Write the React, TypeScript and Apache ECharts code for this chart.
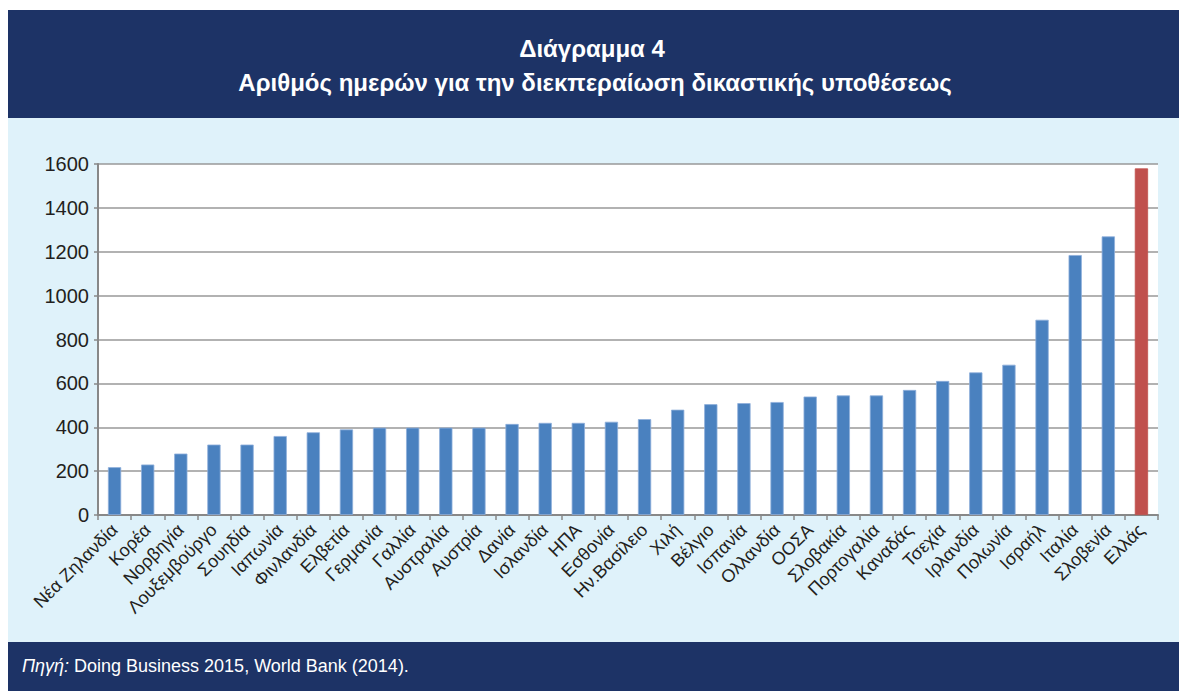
import React, { useEffect, useRef } from "react";
import * as echarts from "echarts";

const categories = [
  "Νέα Ζηλανδία", "Κορέα", "Νορβηγία", "Λουξεμβούργο", "Σουηδία", "Ιαπωνία",
  "Φινλανδία", "Ελβετία", "Γερμανία", "Γαλλία", "Αυστραλία", "Αυστρία",
  "Δανία", "Ισλανδία", "ΗΠΑ", "Εσθονία", "Ην.Βασίλειο", "Χιλή", "Βέλγιο",
  "Ισπανία", "Ολλανδία", "ΟΟΣΑ", "Σλοβακία", "Πορτογαλία", "Καναδάς",
  "Τσεχία", "Ιρλανδία", "Πολωνία", "Ισραήλ", "Ιταλία", "Σλοβενία", "Ελλάς",
];
const days = [
  218, 230, 280, 321, 321, 360, 377, 390, 398, 398, 398, 398,
  415, 420, 420, 425, 437, 480, 505, 510, 515, 540, 545, 545, 570,
  611, 650, 685, 890, 1185, 1270, 1580,
];
const highlighted = "Ελλάς";
const yTicks = [0, 200, 400, 600, 800, 1000, 1200, 1400, 1600];
const title1 = "Διάγραμμα 4";
const title2 = "Αριθμός ημερών για την διεκπεραίωση δικαστικής υποθέσεως";
const sourceLabel = "Πηγή:";
const sourceText = " Doing Business 2015, World Bank (2014).";

const NAVY = "#1d3366";
const LIGHT = "#dff2fa";
const BLUE = "#4a81bf";
const RED = "#c0504d";
const FONT = "'Liberation Sans', Arial, sans-serif";

export default function App() {
  const ref = useRef<HTMLDivElement>(null);
  useEffect(() => {
    if (!ref.current) return;
    const chart = echarts.init(ref.current, null, { renderer: "svg" });
    chart.setOption({
      animation: false,
      backgroundColor: "#ffffff",
      textStyle: { fontFamily: FONT },
      graphic: [
        { type: "rect", z: -100, shape: { x: 8, y: 118, width: 1171, height: 524 }, style: { fill: LIGHT } },
        { type: "rect", z: -90, shape: { x: 8, y: 10, width: 1171, height: 108 }, style: { fill: NAVY } },
        { type: "rect", z: -90, shape: { x: 8, y: 642, width: 1171, height: 49 }, style: { fill: NAVY } },
        {
          type: "text", x: 592, y: 48, z: 10,
          style: { text: title1, fill: "#ffffff", font: "bold 24px " + FONT, align: "center", verticalAlign: "middle" },
        },
        {
          type: "text", x: 595, y: 82, z: 10,
          style: { text: title2, fill: "#ffffff", font: "bold 24px " + FONT, align: "center", verticalAlign: "middle" },
        },
        {
          type: "text", x: 22, y: 666, z: 10,
          style: {
            text: "{i|" + sourceLabel + "}{n|" + sourceText + "}",
            verticalAlign: "middle",
            rich: {
              i: { fill: "#ffffff", fontSize: 18, fontStyle: "italic", fontFamily: FONT },
              n: { fill: "#ffffff", fontSize: 18, fontFamily: FONT },
            },
          },
        },
      ],
      grid: {
        left: 98, right: 21, top: 164, bottom: 176,
        show: true, backgroundColor: "#ffffff", borderWidth: 0,
      },
      xAxis: {
        type: "category",
        data: categories,
        axisLine: { lineStyle: { color: "#888888", width: 2 } },
        axisTick: { show: true, alignWithLabel: false, length: 5, lineStyle: { color: "#888888", width: 1.5 } },
        axisLabel: { interval: 0, rotate: 45, fontSize: 18, color: "#231f20", margin: 12 },
      },
      yAxis: {
        type: "value",
        min: yTicks[0],
        max: yTicks[yTicks.length - 1],
        interval: 200,
        axisLine: { show: true, lineStyle: { color: "#888888", width: 2 } },
        axisTick: { show: true, length: 4, lineStyle: { color: "#888888", width: 1.5 } },
        axisLabel: { fontSize: 20, color: "#231f20", margin: 9, formatter: (v: number) => String(v) },
        splitLine: { lineStyle: { color: "#999999", width: 1.5 } },
      },
      series: [
        {
          type: "bar",
          barWidth: "40%",
          data: days.map((v, i) => ({
            value: v,
            itemStyle: {
              color: categories[i] === highlighted ? RED : BLUE,
              borderColor: categories[i] === highlighted ? RED : "#8eaedb",
              borderWidth: 0.8,
            },
          })),
        },
      ],
    });
    return () => chart.dispose();
  }, []);
  return (
    <div
      ref={ref}
      style={{ position: "absolute", left: 0, top: 0, width: 1179, height: 691 }}
    />
  );
}
